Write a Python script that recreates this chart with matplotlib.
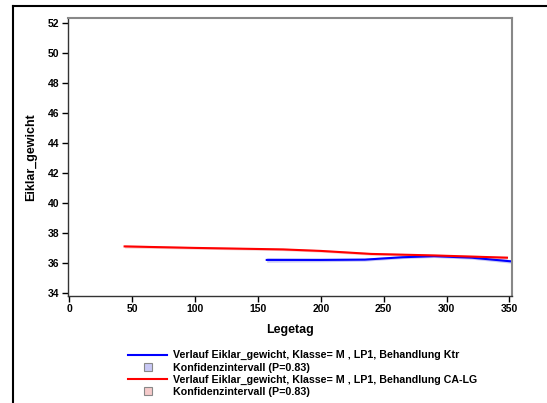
import numpy as np
import matplotlib
matplotlib.use("Agg")
import matplotlib.pyplot as plt
from matplotlib.lines import Line2D

plt.rcParams["font.family"] = ["Liberation Sans", "DejaVu Sans"]
plt.rcParams["font.weight"] = "bold"

# data
ktr_x = [157, 200, 235, 265, 290, 320, 352]
ktr_y = [36.2, 36.2, 36.22, 36.38, 36.45, 36.35, 36.1]
ktr_ci = [0.15, 0.12, 0.1, 0.09, 0.09, 0.1, 0.12]

calg_x = [44, 100, 170, 200, 240, 290, 348]
calg_y = [37.1, 37.0, 36.9, 36.8, 36.6, 36.5, 36.35]
calg_ci = [0.1, 0.08, 0.08, 0.08, 0.08, 0.08, 0.1]

xticks = [0, 50, 100, 150, 200, 250, 300, 350]
yticks = [34, 36, 38, 40, 42, 44, 46, 48, 50, 52]

labels = [
    "Verlauf Eiklar_gewicht, Klasse= M , LP1, Behandlung Ktr",
    "Konfidenzintervall (P=0.83)",
    "Verlauf Eiklar_gewicht, Klasse= M , LP1, Behandlung CA-LG",
    "Konfidenzintervall (P=0.83)",
]

fig = plt.figure(figsize=(5.47, 4.03), dpi=100)
ax = fig.add_axes([68 / 547, 1 - 296 / 403, 444 / 547, 278 / 403])

kx, ky, kc = np.array(ktr_x), np.array(ktr_y), np.array(ktr_ci)
cx, cy, cc = np.array(calg_x), np.array(calg_y), np.array(calg_ci)

ax.fill_between(kx, ky - kc, ky + kc, color="#c8c8f5", lw=0)
ax.fill_between(cx, cy - cc, cy + cc, color="#f5caca", lw=0)
ax.plot(kx, ky, color="#0000ff", lw=1.5)
ax.plot(cx, cy, color="#ff0000", lw=1.5)

ax.set_xlim(-1, 352)
ax.set_ylim(33.8, 52.3)
ax.set_xticks(xticks)
ax.set_yticks(yticks)
ax.tick_params(labelsize=7.5, length=4, width=1, pad=2)
for lab in ax.get_xticklabels() + ax.get_yticklabels():
    lab.set_fontweight("bold")
ax.set_xlabel("Legetag", fontsize=9, fontweight="bold", labelpad=7)
ax.set_ylabel("Eiklar_gewicht", fontsize=9, fontweight="bold", labelpad=8)
for s in ["top", "right"]:
    ax.spines[s].set_color("#888888")
    ax.spines[s].set_linewidth(1.5)
for s in ["left", "bottom"]:
    ax.spines[s].set_color("#333333")
    ax.spines[s].set_linewidth(1)

handles = [
    Line2D([], [], color="#0000ff", lw=1.5),
    Line2D([], [], ls="none", marker="s", ms=6, mfc="#c8c8f5", mec="#888888", mew=0.8),
    Line2D([], [], color="#ff0000", lw=1.5),
    Line2D([], [], ls="none", marker="s", ms=6, mfc="#f5caca", mec="#888888", mew=0.8),
]
fig.legend(handles, labels, loc="upper left", bbox_to_anchor=(124 / 547, 1 - 346 / 403),
           frameon=False, handlelength=3.6, handletextpad=0.55,
           labelspacing=0.2, borderaxespad=0, prop={"weight": "bold", "size": 7.7})

# outer frame lines
fig.add_artist(Line2D([13 / 547, 1], [1 - 6 / 403, 1 - 6 / 403], color="black", lw=1.5,
                      transform=fig.transFigure))
fig.add_artist(Line2D([13 / 547, 13 / 547], [0, 1 - 6 / 403], color="black", lw=1.5,
                      transform=fig.transFigure))

fig.savefig("out.png", dpi=100)
